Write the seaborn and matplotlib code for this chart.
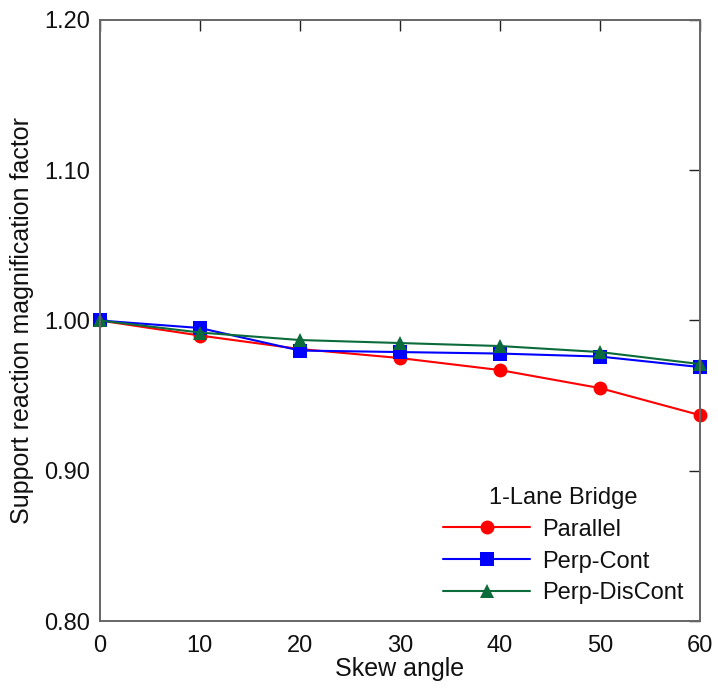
import matplotlib
matplotlib.use("Agg")
import matplotlib.pyplot as plt
import seaborn as sns
import pandas as pd

skew = [0, 10, 20, 30, 40, 50, 60]
parallel = [1.000, 0.990, 0.981, 0.975, 0.967, 0.955, 0.937]
perp_cont = [1.000, 0.995, 0.980, 0.979, 0.978, 0.976, 0.969]
perp_discont = [1.000, 0.992, 0.987, 0.985, 0.983, 0.979, 0.971]
series_names = ["Parallel", "Perp-Cont", "Perp-DisCont"]
colors = ["#FF0000", "#0000FF", "#0B6B3A"]
markers = ["o", "s", "^"]

rows = []
for name, vals in zip(series_names, [parallel, perp_cont, perp_discont]):
    for x, y in zip(skew, vals):
        rows.append({"Skew angle": x, "val": y, "series": name})
df = pd.DataFrame(rows)

sns.set_style("white")
plt.rcParams["font.family"] = ["Liberation Sans", "DejaVu Sans"]

fig = plt.figure(figsize=(7.18, 6.92), dpi=100)
ax = fig.add_axes([0.139, 0.1026, 0.836, 0.8685])

sns.lineplot(data=df, x="Skew angle", y="val", hue="series", style="series",
             palette=dict(zip(series_names, colors)),
             markers=dict(zip(series_names, markers)),
             dashes=False, markersize=10, markeredgewidth=0, linewidth=1.5,
             ax=ax, legend=True, clip_on=False)

ax.set_xlim(0, 60)
ax.set_ylim(0.80, 1.20)
ax.set_xticks([0, 10, 20, 30, 40, 50, 60])
ax.set_yticks([0.80, 0.90, 1.00, 1.10, 1.20])
ax.set_yticklabels([f"{v:.2f}" for v in [0.80, 0.90, 1.00, 1.10, 1.20]])
ax.tick_params(direction="in", length=8, width=1, colors="#222222",
               labelsize=17, top=True, right=True, labelcolor="#111111", pad=7)
ax.tick_params(axis="x", pad=10)
for s in ax.spines.values():
    s.set_color("#666666")
    s.set_linewidth(1.4)
ax.set_xlabel("Skew angle", fontsize=18, labelpad=0, color="#111111")
ax.set_ylabel("Support reaction magnification factor", fontsize=18, labelpad=7,
              color="#111111")

leg = ax.legend(title="1-Lane Bridge", loc="lower right", frameon=False,
                fontsize=17, title_fontsize=17, handlelength=3.7,
                handletextpad=0.5,
                bbox_to_anchor=(1.0, 0.0), labelspacing=0.42, borderaxespad=0.3)
for t in leg.get_texts():
    t.set_color("#111111")
leg.get_title().set_color("#111111")

fig.savefig("out.png", dpi=100)
